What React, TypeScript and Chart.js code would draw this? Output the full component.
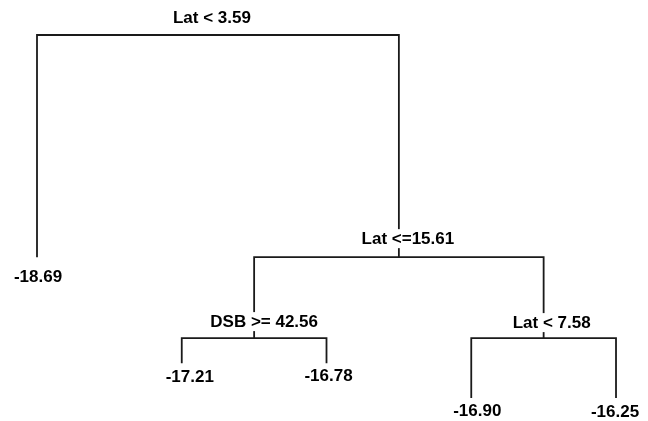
import React, { useEffect, useRef } from "react";
import { Chart, registerables } from "chart.js";

Chart.register(...registerables);

// Split (internal node) labels, in node order
const splitLabels = ["Lat < 3.59", "Lat <=15.61", "DSB >= 42.56", "Lat < 7.58"];
// Relative node heights (deviance-based, root = 1)
const splitHeights = [1.0, 0.388, 0.165, 0.165];
// Children of each internal node: "N#" = internal node, "L#" = leaf
const splitLeft = ["L0", "N2", "L1", "L3"];
const splitRight = ["N1", "N3", "L2", "L4"];

// Leaf predictions (left to right) and their heights
const leafValues = [-18.69, -17.21, -16.78, -16.9, -16.25];
const leafHeights = [0.388, 0.096, 0.096, 0.0, 0.0];

// label placement tweaks (pixels)
const splitLabelDx = [-6, 9, 10, 8];
const splitLabelDy = [-17, -18, -16, -15];
const leafLabelDx = [1, 8, 2, 6, -1];
const leafLabelDy = [20, 14, 13, 13, 14];

const FONT = "bold 17px 'Liberation Sans', Arial, sans-serif";

function nodeX(id: string): number {
  if (id[0] === "L") return parseInt(id.slice(1), 10) + 1;
  const i = parseInt(id.slice(1), 10);
  return (nodeX(splitLeft[i]) + nodeX(splitRight[i])) / 2;
}
function nodeH(id: string): number {
  const i = parseInt(id.slice(1), 10);
  return id[0] === "L" ? leafHeights[i] : splitHeights[i];
}

export default function App() {
  const ref = useRef<HTMLCanvasElement>(null);
  useEffect(() => {
    document.body.style.margin = "0";
    const canvas = ref.current!;
    const datasets = splitLabels.map((_, i) => {
      const h = splitHeights[i];
      const lx = nodeX(splitLeft[i]);
      const rx = nodeX(splitRight[i]);
      return {
        label: splitLabels[i],
        data: [
          { x: lx, y: nodeH(splitLeft[i]) },
          { x: lx, y: h },
          { x: rx, y: h },
          { x: rx, y: nodeH(splitRight[i]) },
        ],
        showLine: true,
        borderColor: "#1a1a1a",
        borderWidth: 1.8,
        pointRadius: 0,
        tension: 0,
        fill: false,
      };
    });

    const labelPlugin = {
      id: "treeLabels",
      afterDatasetsDraw(chart: any) {
        const ctx = chart.ctx;
        const xs = chart.scales.x;
        const ys = chart.scales.y;
        ctx.save();
        ctx.font = FONT;
        ctx.textAlign = "center";
        ctx.textBaseline = "middle";
        splitLabels.forEach((t, i) => {
          const px = xs.getPixelForValue(nodeX("N" + i)) + splitLabelDx[i];
          const py = ys.getPixelForValue(splitHeights[i]) + splitLabelDy[i];
          const w = ctx.measureText(t).width;
          ctx.fillStyle = "#ffffff";
          ctx.fillRect(px - w / 2 - 3, py - 10, w + 6, 19);
          ctx.fillStyle = "#000000";
          ctx.fillText(t, px, py);
        });
        leafValues.forEach((v, i) => {
          const px = xs.getPixelForValue(i + 1) + leafLabelDx[i];
          const py = ys.getPixelForValue(leafHeights[i]) + leafLabelDy[i];
          ctx.fillStyle = "#000000";
          ctx.fillText(v.toFixed(2), px, py);
        });
        ctx.restore();
      },
    };

    const chart = new Chart(canvas, {
      type: "scatter",
      data: { datasets },
      options: {
        animation: false,
        responsive: false,
        devicePixelRatio: 1,
        layout: { padding: 0 },
        plugins: { legend: { display: false }, tooltip: { enabled: false } },
        scales: {
          x: { type: "linear", display: false, min: 0.7444, max: 5.221 },
          y: { type: "linear", display: false, min: -0.0634, max: 1.0964 },
        },
      },
      plugins: [labelPlugin],
    });
    return () => chart.destroy();
  }, []);
  return (
    <div style={{ width: 648, height: 421, background: "#fff" }}>
      <canvas ref={ref} width={648} height={421} style={{ display: "block", width: 648, height: 421 }} />
    </div>
  );
}
